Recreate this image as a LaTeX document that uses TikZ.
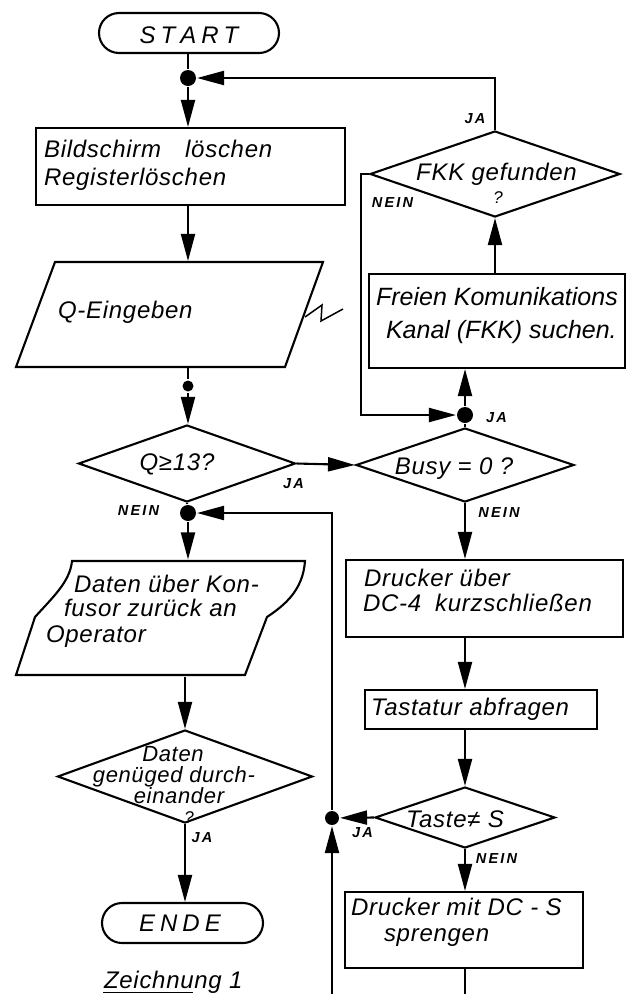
\documentclass[tikz,border=0pt]{standalone}
\usepackage{fontspec}
\setmainfont{Liberation Sans}
\newfontfamily\dinfont[LetterSpace=3]{Liberation Sans}
\newfontfamily\dinfontn[LetterSpace=0]{Liberation Sans}
\newfontfamily\labfont[LetterSpace=15]{Liberation Sans}
\usetikzlibrary{arrows.meta,shapes.geometric}
\begin{document}
\begin{tikzpicture}[x=1pt,y=-1pt, line width=2.1pt,
  txt/.style={font=\dinfont\itshape\fontsize{24}{28}\selectfont, inner sep=0pt, anchor=base west},
  txtc/.style={font=\dinfont\itshape\fontsize{24}{28}\selectfont, inner sep=0pt, anchor=base},
  txts/.style={font=\dinfont\itshape\fontsize{22}{26}\selectfont, inner sep=0pt, anchor=base},
  txtn/.style={font=\dinfontn\itshape\fontsize{25}{28}\selectfont, inner sep=0pt, anchor=base west},
  lab/.style={font=\labfont\bfseries\itshape\fontsize{14.5}{16}\selectfont, inner sep=0pt, anchor=base},
  qm/.style={font=\dinfont\itshape\fontsize{17}{20}\selectfont, inner sep=0pt, anchor=base},
  box/.style={draw, rectangle, inner sep=0pt},
  dia/.style={draw, diamond, inner sep=0pt},
  term/.style={draw, rectangle, rounded corners=20pt, inner sep=0pt, minimum height=40pt},
  dot/.style={circle, fill=black, draw=none, inner sep=0pt, minimum size=16pt},
  sdot/.style={dot, minimum size=11pt},
  arr/.style={-{Triangle[length=27pt,width=14pt]}},
  hidden/.style={rectangle, inner sep=0pt, minimum width=1pt}
]
\fill[white] (0,0) rectangle (629,994);
\useasboundingbox (0,0) rectangle (629,994);

% ---------- left column ----------
\node[term, minimum width=180pt] (start) at (189,33) {};
\node[txtc] (startt) at (189,43) {S\hspace{5pt}T\hspace{5pt}A\hspace{5pt}R\hspace{5pt}T};
\node[dot] (j1) at (188,78) {};

\node[box, minimum width=309pt, minimum height=77pt] (b1) at (190.5,166.5) {};
\node[txt] (b1a) at (43,157.6) {Bildschirm\hspace{24pt}löschen};
\node[txt] (b1b) at (43,185.6) {Registerlöschen};

\node[hidden, minimum height=105pt] (q) at (188,314.5) {};
\draw (55,262) -- (323,262) -- (285,367) -- (16,367) -- cycle;
\draw[line width=1.5pt] (305,317) -- (322,305) -- (321,321) -- (343,309);
\node[txt] (qt) at (57,318.6) {Q-Eingeben};

\node[sdot] (j2) at (188,386) {};

\node[dia, minimum width=217pt, minimum height=77pt] (q13) at (187,463.5) {};
\node[txtc] (q13t) at (177,470.5) {Q≥13?};

\node[dot] (j3) at (188,513) {};

\node[hidden, minimum height=115pt] (daten) at (185,618) {};
\draw (72,561) -- (305,561) .. controls (303,590) and (285,605) .. (267,617)
      -- (245,675) -- (16,675) -- (35,617) .. controls (52,598) and (70,582) .. (72,561) -- cycle;
\node[txt] (da1) at (73,592) {Daten über Kon-};
\node[txt] (da2) at (63,616) {fusor zurück an};
\node[txt] (da3) at (45,642) {Operator};

\node[dia, minimum width=255pt, minimum height=93pt] (dd) at (185,776.5) {};
\node[txts] (dd1) at (173,761) {Daten};
\node[txts] (dd2) at (174,782) {genüged durch-};
\node[txts] (dd3) at (179,803) {einander};
\node[qm] (dd4) at (189,823) {?};

\node[term, minimum width=161pt] (ende) at (182.5,923) {};
\node[txtc] (endet) at (180,931.7) {E\hspace{5pt}N\hspace{5pt}D\hspace{5pt}E};

\node[txt] (zt) at (103,988) {Zeichnung 1};
\draw[line width=1.4pt] (zt.base west) ++(0,4.5) -- ++(90,0);

% ---------- right column ----------
\node[dia, minimum width=250pt, minimum height=86pt] (fkk) at (495,174) {};
\node[txtc] (fkkt) at (496.5,180.7) {FKK gefunden};
\node[qm] (fkkq) at (498,203) {?};

\node[box, minimum width=256pt, minimum height=94pt] (fs) at (497,321) {};
\node[txtn] (fs1) at (375,305) {Freien Komunikations};
\node[txtn] (fs2) at (385,338) {Kanal (FKK) suchen.};

\node[dot] (jbusy) at (465,415) {};

\node[dia, minimum width=218pt, minimum height=74pt] (busy) at (465,465) {};
\node[txtc] (busyt) at (454,474) {Busy = 0 ?};

\node[box, minimum width=277pt, minimum height=77pt] (dr1) at (484.5,598.5) {};
\node[txt] (dr1a) at (363,586) {Drucker über};
\node[txt] (dr1b) at (362,611) {DC-4\hspace{14pt}kurzschließen};

\node[box, minimum width=232pt, minimum height=39pt] (tast) at (481,709.5) {};
\node[txt] (tastt) at (370,715) {Tastatur abfragen};

\node[dia, minimum width=180pt, minimum height=61pt] (taste) at (465,817.5) {};
\node[txtc] (tastet) at (455,827) {Taste≠ S};

\node[dot, minimum size=14pt] (jt) at (332,818) {};

\node[box, minimum width=238pt, minimum height=76pt] (dr2) at (464,930) {};
\node[txt] (dr2a) at (350,915) {Drucker mit DC - S};
\node[txt] (dr2b) at (383,941) {sprengen};

\coordinate (botL) at (332,994);
\coordinate (botR) at (465,994);

% ---------- labels ----------
\node[lab] (l1) at (475,123) {JA};
\node[lab] (l2) at (392.5,207) {NEIN};
\node[lab] (l3) at (496.5,422) {JA};
\node[lab] (l4) at (293.5,488) {JA};
\node[lab] (l5) at (499,517) {NEIN};
\node[lab] (l6) at (138.5,515) {NEIN};
\node[lab] (l7) at (202,842) {JA};
\node[lab] (l8) at (362.5,837) {JA};
\node[lab] (l9) at (496.5,863) {NEIN};

% ---------- connectors ----------
\draw (start.south -| j1) -- (j1);
\draw[arr] (j1) -- (j1 |- b1.north);
\draw[arr] (fkk.north) |- (j1);
\draw[arr] (j1 |- b1.south) -- (q.north);
\draw (q.south) -- (j2);
\draw[arr] (j2) -- (j2 |- q13.north);
\draw[arr] (q13.east) -- (busy.west);
\draw (busy.north) -- (jbusy);
\draw[arr] (fkk.west) -- ++(-8,0) |- (jbusy);
\draw[arr] (jbusy) -- (jbusy |- fs.south);
\draw[arr] (fkk.south |- fs.north) -- (fkk.south);
\draw (q13.south) -- (j3);
\draw[arr] (j3) -- (j3 |- daten.north);
\draw[arr] (daten.south) -- (dd.north);
\draw[arr] (dd.south) -- (dd.south |- ende.north);
\draw[arr] (busy.south) -- (busy.south |- dr1.north);
\draw[arr] (busy.south |- dr1.south) -- (busy.south |- tast.north);
\draw[arr] (taste.north |- tast.south) -- (taste.north);
\draw[arr] (taste.west) -- (jt);
\draw[arr] (botL) -- (jt);
\draw[arr] (jt) -- (jt |- j3) -- (j3);
\draw[arr] (taste.south) -- (taste.south |- dr2.north);
\draw (dr2.south -| botR) -- (botR);
\end{tikzpicture}
\end{document}
